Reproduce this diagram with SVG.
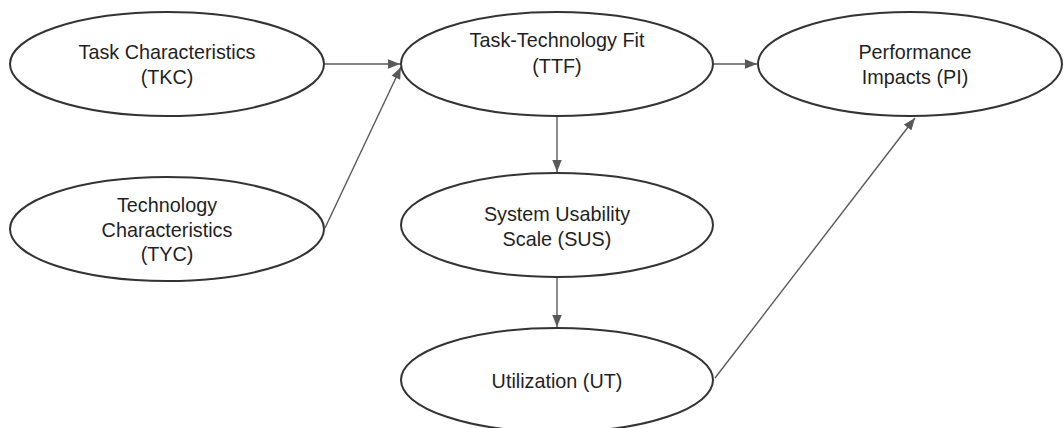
<svg xmlns="http://www.w3.org/2000/svg" width="1064" height="428" viewBox="0 0 1064 428">
<defs>
<marker id="arr" viewBox="0 0 12 10" refX="12" refY="5" markerWidth="12" markerHeight="10" markerUnits="userSpaceOnUse" orient="auto">
<path d="M0,0.3 L12,5 L0,9.7 Z" fill="#595959"/>
</marker>
</defs>
<style>
.n ellipse{fill:#fff;stroke:#333;stroke-width:2}
.n text{font-family:"Liberation Sans",Arial,sans-serif;font-size:19.8px;fill:#1f1f1f;text-anchor:middle}
.c line{stroke:#595959;stroke-width:1.4;marker-end:url(#arr)}
</style>
<rect width="1064" height="428" fill="#fff"/>
<g class="c" id="connectors">
<line x1="325" y1="64" x2="400" y2="64"/>
<line x1="325" y1="228" x2="401" y2="67"/>
<line x1="714" y1="64" x2="757" y2="64"/>
<line x1="557" y1="117" x2="557" y2="172"/>
<line x1="557" y1="277" x2="557" y2="327"/>
<line x1="715" y1="378" x2="915" y2="118"/>
</g>
<g class="n" id="tkc">
<ellipse cx="167" cy="64" rx="157" ry="52"/>
<text x="167" y="59">Task Characteristics</text>
<text x="167" y="84">(TKC)</text>
</g>
<g class="n" id="ttf">
<ellipse cx="557" cy="64" rx="156" ry="52"/>
<text x="557" y="47">Task-Technology Fit</text>
<text x="557" y="73">(TTF)</text>
</g>
<g class="n" id="pi">
<ellipse cx="910" cy="64" rx="152" ry="52"/>
<text x="915" y="59">Performance</text>
<text x="915" y="84">Impacts (PI)</text>
</g>
<g class="n" id="tyc">
<ellipse cx="167" cy="229" rx="157" ry="52"/>
<text x="167" y="212">Technology</text>
<text x="167" y="237">Characteristics</text>
<text x="167" y="261">(TYC)</text>
</g>
<g class="n" id="sus">
<ellipse cx="557" cy="225" rx="156" ry="52"/>
<text x="557" y="221">System Usability</text>
<text x="557" y="246">Scale (SUS)</text>
</g>
<g class="n" id="ut">
<ellipse cx="557" cy="380" rx="156" ry="52"/>
<text x="557" y="388">Utilization (UT)</text>
</g>
</svg>
